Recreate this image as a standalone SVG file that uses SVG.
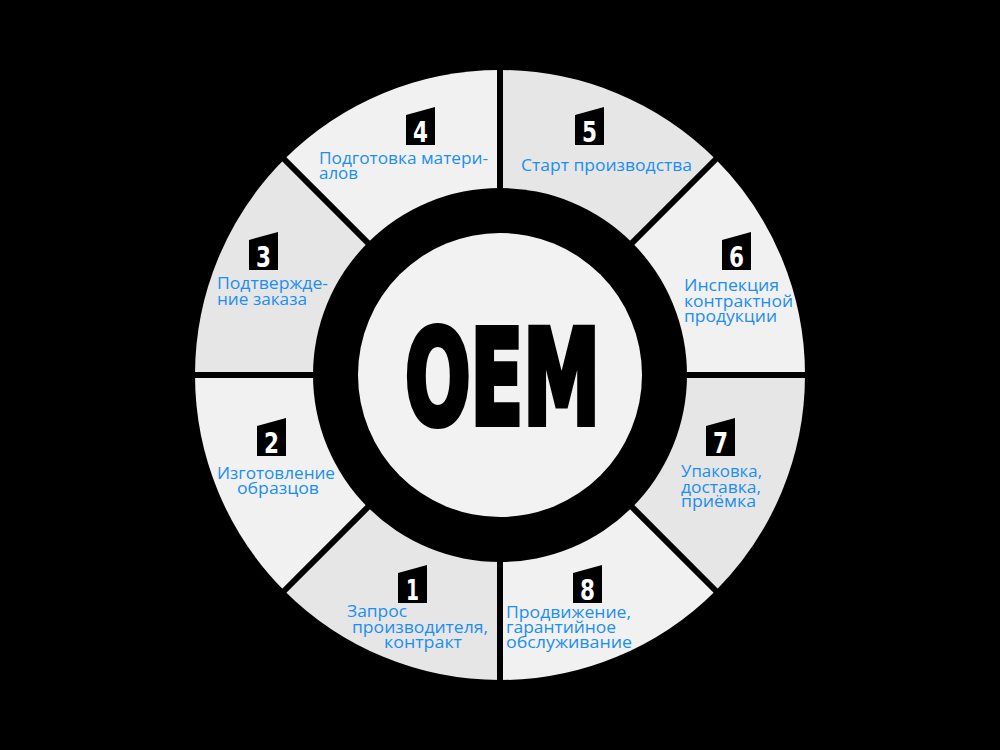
<svg xmlns="http://www.w3.org/2000/svg" xmlns:xlink="http://www.w3.org/1999/xlink" width="1000" height="750" viewBox="0 0 1000 750">
  <style>
    .lbl { font-family: "Open Sans", "Noto Sans", "DejaVu Sans", sans-serif; font-size: 16px; fill: #1b8ef2; }
    .num { font-family: "Liberation Sans Narrow", "DejaVu Sans Condensed", "Liberation Sans", sans-serif; font-weight: bold; font-size: 28px; fill: #ffffff; text-anchor: middle; }
    .light { fill: #f1f1f1; }
    .dark { fill: #e6e6e6; }
    .sep { stroke: #000000; stroke-width: 6; }
    .oem { font-family: "Liberation Sans Narrow", "DejaVu Sans Condensed", "Liberation Sans", sans-serif; font-weight: bold; font-size: 131px; fill: #000000; stroke: #000000; stroke-width: 6; stroke-linejoin: miter; }
  </style>
  <defs>
    <path id="badge" d="M0,8 L29,0 L29,38 L0,38 Z" fill="#000000"/>
  </defs>
  <rect x="0" y="0" width="1000" height="750" fill="#000000"/>

  <g id="node-4">
    <path class="light" d="M500,375 L284.33,159.33 A305,305 0 0 1 500,70 Z"/>
    <use xlink:href="#badge" x="406" y="107"/>
    <text class="num" x="420.5" y="142" textLength="15" lengthAdjust="spacingAndGlyphs">4</text>
    <text class="lbl" x="319" y="164" textLength="169" lengthAdjust="spacingAndGlyphs">Подготовка матери-</text>
    <text class="lbl" x="319" y="179" textLength="39" lengthAdjust="spacingAndGlyphs">алов</text>
  </g>
  <g id="node-5">
    <path class="dark" d="M500,375 L500,70 A305,305 0 0 1 715.67,159.33 Z"/>
    <use xlink:href="#badge" x="575" y="107"/>
    <text class="num" x="589.5" y="142" textLength="15" lengthAdjust="spacingAndGlyphs">5</text>
    <text class="lbl" x="521" y="171" textLength="171" lengthAdjust="spacingAndGlyphs">Старт производства</text>
  </g>
  <g id="node-6">
    <path class="light" d="M500,375 L715.67,159.33 A305,305 0 0 1 805,375 Z"/>
    <use xlink:href="#badge" x="722" y="232"/>
    <text class="num" x="736.5" y="267" textLength="15" lengthAdjust="spacingAndGlyphs">6</text>
    <text class="lbl" x="684" y="291" textLength="95" lengthAdjust="spacingAndGlyphs">Инспекция</text>
    <text class="lbl" x="684" y="307" textLength="109" lengthAdjust="spacingAndGlyphs">контрактной</text>
    <text class="lbl" x="684" y="322" textLength="93" lengthAdjust="spacingAndGlyphs">продукции</text>
  </g>
  <g id="node-7">
    <path class="dark" d="M500,375 L805,375 A305,305 0 0 1 715.67,590.67 Z"/>
    <use xlink:href="#badge" x="706" y="418"/>
    <text class="num" x="720.5" y="453" textLength="15" lengthAdjust="spacingAndGlyphs">7</text>
    <text class="lbl" x="681" y="477" textLength="81" lengthAdjust="spacingAndGlyphs">Упаковка,</text>
    <text class="lbl" x="681" y="493" textLength="80" lengthAdjust="spacingAndGlyphs">доставка,</text>
    <text class="lbl" x="681" y="507" textLength="75" lengthAdjust="spacingAndGlyphs">приёмка</text>
  </g>
  <g id="node-8">
    <path class="light" d="M500,375 L715.67,590.67 A305,305 0 0 1 500,680 Z"/>
    <use xlink:href="#badge" x="573" y="565"/>
    <text class="num" x="587.5" y="600" textLength="15" lengthAdjust="spacingAndGlyphs">8</text>
    <text class="lbl" x="506" y="618" textLength="125" lengthAdjust="spacingAndGlyphs">Продвижение,</text>
    <text class="lbl" x="506" y="633" textLength="110" lengthAdjust="spacingAndGlyphs">гарантийное</text>
    <text class="lbl" x="506" y="648" textLength="126" lengthAdjust="spacingAndGlyphs">обслуживание</text>
  </g>
  <g id="node-1">
    <path class="dark" d="M500,375 L500,680 A305,305 0 0 1 284.33,590.67 Z"/>
    <use xlink:href="#badge" x="398" y="565"/>
    <text class="num" x="412.5" y="600" textLength="13" lengthAdjust="spacingAndGlyphs">1</text>
    <text class="lbl" x="347" y="617" textLength="60" lengthAdjust="spacingAndGlyphs">Запрос</text>
    <text class="lbl" x="352" y="633" textLength="136" lengthAdjust="spacingAndGlyphs">производителя,</text>
    <text class="lbl" x="384" y="648" textLength="78" lengthAdjust="spacingAndGlyphs">контракт</text>
  </g>
  <g id="node-2">
    <path class="light" d="M500,375 L284.33,590.67 A305,305 0 0 1 195,375 Z"/>
    <use xlink:href="#badge" x="257" y="418"/>
    <text class="num" x="271.5" y="453" textLength="15" lengthAdjust="spacingAndGlyphs">2</text>
    <text class="lbl" x="217" y="479" textLength="118" lengthAdjust="spacingAndGlyphs">Изготовление</text>
    <text class="lbl" x="237" y="494" textLength="82" lengthAdjust="spacingAndGlyphs">образцов</text>
  </g>
  <g id="node-3">
    <path class="dark" d="M500,375 L195,375 A305,305 0 0 1 284.33,159.33 Z"/>
    <use xlink:href="#badge" x="249" y="232"/>
    <text class="num" x="263.5" y="267" textLength="15" lengthAdjust="spacingAndGlyphs">3</text>
    <text class="lbl" x="217" y="289" textLength="111" lengthAdjust="spacingAndGlyphs">Подтвержде-</text>
    <text class="lbl" x="217" y="305" textLength="90" lengthAdjust="spacingAndGlyphs">ние заказа</text>
  </g>

  <g id="connectors">
    <line class="sep" x1="500" y1="375" x2="500" y2="66"/>
    <line class="sep" x1="500" y1="375" x2="500" y2="684"/>
    <line class="sep" x1="500" y1="375" x2="191" y2="375"/>
    <line class="sep" x1="500" y1="375" x2="809" y2="375"/>
    <line class="sep" x1="500" y1="375" x2="718.5" y2="156.5"/>
    <line class="sep" x1="500" y1="375" x2="281.5" y2="156.5"/>
    <line class="sep" x1="500" y1="375" x2="718.5" y2="593.5"/>
    <line class="sep" x1="500" y1="375" x2="281.5" y2="593.5"/>
  </g>

  <g id="center">
    <circle cx="500" cy="375" r="187" fill="#000000"/>
    <circle cx="500" cy="375" r="142" fill="#f2f2f2"/>
    <text class="oem" x="405" y="424" textLength="195" lengthAdjust="spacingAndGlyphs">OEM</text>
  </g>
</svg>
